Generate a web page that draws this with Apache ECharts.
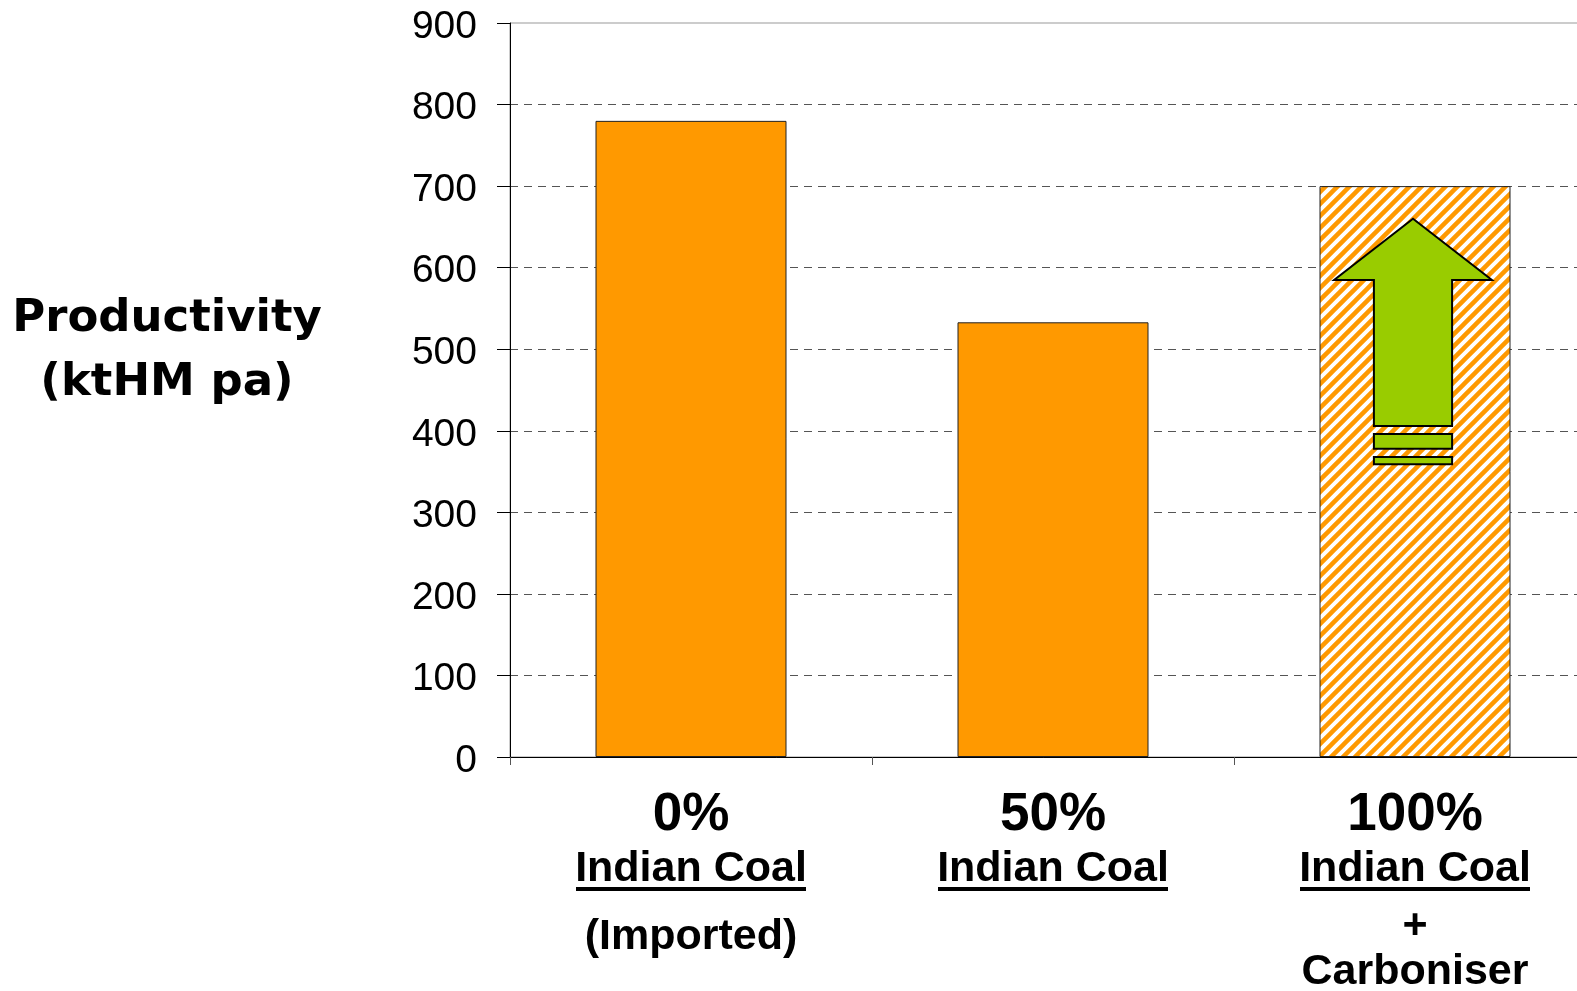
<!DOCTYPE html>
<html>
<head>
<meta charset="utf-8">
<script src="https://cdn.jsdelivr.net/npm/echarts@6/dist/echarts.min.js"></script>
<style>
  html, body { margin: 0; padding: 0; background: #fff; }
  #chart { width: 1577px; height: 991px; }
</style>
</head>
<body>
<div id="chart"></div>
<script>
// Chart data
const shares = ['0%', '50%', '100%']
const coalLabel = 'Indian Coal'
const productivity = [780, 533, 700]
const yTicks = [0, 100, 200, 300, 400, 500, 600, 700, 800, 900]
// arrow on the carboniser bar: tip, head base, shaft end, then two small bars (top, bottom)
const arrowLevels = [660, 585, 406, 396, 378, 368, 359]

// Diagonal orange hatch for the projected bar
function makeHatch() {
  const s = 12
  const c = document.createElement('canvas')
  c.width = s
  c.height = s
  const ctx = c.getContext('2d')
  ctx.fillStyle = '#ffffff'
  ctx.fillRect(0, 0, s, s)
  ctx.strokeStyle = '#FF9900'
  ctx.lineWidth = 4.5
  ctx.beginPath()
  ctx.moveTo(-1, s + 1); ctx.lineTo(s + 1, -1)
  ctx.moveTo(-s / 2 - 1, s / 2 + 1); ctx.lineTo(s / 2 + 1, -s / 2 - 1)
  ctx.moveTo(s / 2 - 1, 3 * s / 2 + 1); ctx.lineTo(3 * s / 2 + 1, s / 2 - 1)
  ctx.stroke()
  return c
}

const chart = echarts.init(document.getElementById('chart'))

const catFont = '"Liberation Sans", Arial, sans-serif'

const option = {
  animation: false,
  backgroundColor: '#ffffff',
  graphic: [
    {
      type: 'text',
      x: 167,
      y: 351,
      style: {
        text: 'Productivity\n(ktHM pa)',
        font: 'bold 45px "DejaVu Sans", sans-serif',
        lineHeight: 64,
        fill: '#000',
        align: 'center',
        verticalAlign: 'middle'
      }
    }
  ],
  grid: {
    left: 510,
    top: 23,
    width: 1086,
    height: 734,
    outerBoundsMode: 'none',
    containLabel: false,
    show: true,
    borderColor: '#999',
    borderWidth: 1
  },
  xAxis: {
    type: 'category',
    data: shares,
    axisLine: { lineStyle: { color: '#000', width: 1 } },
    axisTick: { show: true, length: 8, lineStyle: { color: '#555' } },
    axisLabel: {
      interval: 0,
      margin: 22,
      color: '#000',
      formatter: function (value, index) {
        const lines = ['{pct|' + value + '}', '{coal|' + coalLabel + '}', '{ul| }']
        if (index === 0) lines.push('{imp|(Imported)}')
        if (index === 2) lines.push('{plus|+}', '{carb|Carboniser}')
        return lines.join('\n')
      },
      rich: {
        pct: { fontFamily: catFont, fontWeight: 'bold', fontSize: 53, lineHeight: 72, color: '#000' },
        coal: { fontFamily: catFont, fontWeight: 'bold', fontSize: 43, lineHeight: 36, color: '#000' },
        ul: { fontSize: 1, width: 230, height: 4, lineHeight: 4, backgroundColor: '#000' },
        imp: { fontFamily: catFont, fontWeight: 'bold', fontSize: 43, lineHeight: 92, color: '#000' },
        plus: { fontFamily: catFont, fontWeight: 'bold', fontSize: 43, lineHeight: 70, color: '#000' },
        carb: { fontFamily: catFont, fontWeight: 'bold', fontSize: 43, lineHeight: 22, color: '#000' }
      }
    }
  },
  yAxis: {
    type: 'value',
    min: yTicks[0],
    max: yTicks[yTicks.length - 1],
    interval: 100,
    axisLine: { show: true, lineStyle: { color: '#000', width: 1 } },
    axisTick: { show: true, length: 13, lineStyle: { color: '#000' } },
    axisLabel: {
      margin: 33,
      color: '#000',
      formatter: v => '{t|' + v + '}',
      rich: {
        t: {
          fontFamily: catFont,
          fontSize: 39,
          lineHeight: 44,
          color: '#000',
          padding: [8, 0, 0, 0]
        }
      }
    },
    splitLine: {
      show: true,
      lineStyle: {
        type: [8, 6],
        width: 1,
        color: ['#555', '#555', '#555', '#555', '#555', '#555', '#555', '#555', '#555', 'rgba(0,0,0,0)']
      }
    }
  },
  series: [
    {
      type: 'bar',
      barWidth: 191,
      data: productivity.map((v, i) => ({
        value: v,
        itemStyle: i === 2
          ? { color: { image: makeHatch(), repeat: 'repeat' }, borderColor: '#222', borderWidth: 1 }
          : { color: '#FF9900', borderColor: '#222', borderWidth: 1 }
      }))
    },
    {
      type: 'custom',
      z: 5,
      data: [[shares[2], arrowLevels[0]]],
      renderItem: function (params, api) {
        const cat = api.value(0)
        const cx = api.coord([cat, 0])[0] - 2
        const unit = api.size([1, 0])[0]
        const y = v => api.coord([cat, v])[1]
        const hw = unit * 0.218
        const sw = unit * 0.108
        const [tip, base, shaftEnd, b1Top, b1Bot, b2Top, b2Bot] = arrowLevels
        const st = { fill: '#99CC00', stroke: '#000', lineWidth: 2 }
        return {
          type: 'group',
          children: [
            {
              type: 'polygon',
              shape: {
                points: [
                  [cx, y(tip)], [cx + hw, y(base)], [cx + sw, y(base)], [cx + sw, y(shaftEnd)],
                  [cx - sw, y(shaftEnd)], [cx - sw, y(base)], [cx - hw, y(base)]
                ]
              },
              style: st
            },
            {
              type: 'rect',
              shape: { x: cx - sw, y: y(b1Top), width: 2 * sw, height: y(b1Bot) - y(b1Top) },
              style: st
            },
            {
              type: 'rect',
              shape: { x: cx - sw, y: y(b2Top), width: 2 * sw, height: y(b2Bot) - y(b2Top) },
              style: st
            }
          ]
        }
      }
    }
  ]
}

chart.setOption(option)
</script>
</body>
</html>
